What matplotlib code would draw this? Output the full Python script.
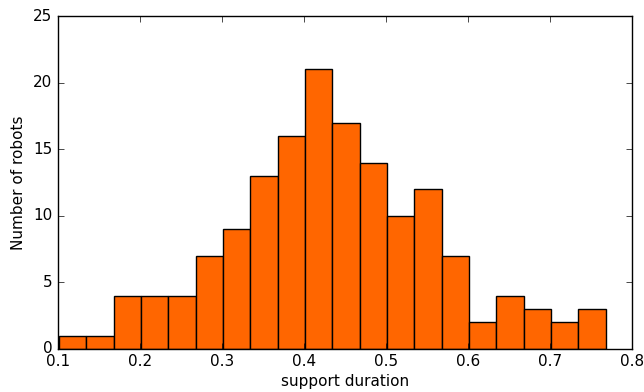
import numpy as np
import matplotlib
matplotlib.use("Agg")
import matplotlib.pyplot as plt

plt.style.use("classic")

# Histogram of support durations: bin edges and robot counts per bin
bin_start = 0.1012
bin_stop = 0.7682
counts = [1, 1, 4, 4, 4, 7, 9, 13, 16, 21, 17, 14, 10, 12, 7, 2, 4, 3, 2, 3]
edges = np.linspace(bin_start, bin_stop, len(counts) + 1)

fig = plt.figure(figsize=(6.44, 3.92), dpi=100, facecolor="white")
ax = fig.add_axes([0.090, 0.110, 0.891, 0.849])

ax.bar(edges[:-1], counts, width=np.diff(edges), align="edge",
       color="#ff6600", edgecolor="black", linewidth=1.0)

ax.set_xlim(0.1, 0.8)
ax.set_ylim(0, 25)
ax.set_xticks(np.arange(0.1, 0.81, 0.1))
ax.set_yticks(np.arange(0, 26, 5))
ax.set_xlabel("support duration", fontsize=11, labelpad=3)
ax.set_ylabel("Number of robots", fontsize=11)
ax.tick_params(labelsize=11)

fig.savefig("out.png", dpi=100, facecolor="white")
